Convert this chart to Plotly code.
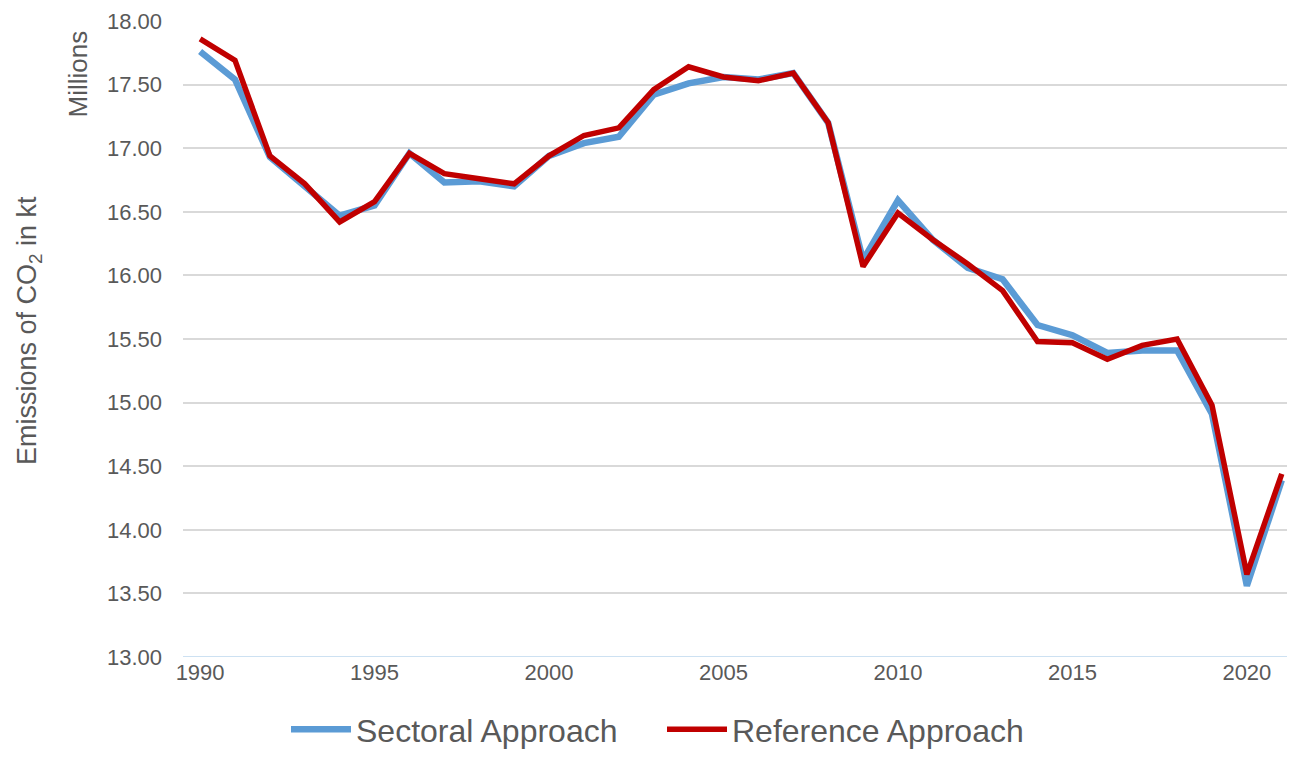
import plotly.graph_objects as go

# Annual CO2 emissions (million kt), two estimation approaches
years = list(range(1990, 2022))
sectoral = [17.76, 17.54, 16.93, 16.70, 16.47, 16.55, 16.96, 16.73, 16.74, 16.70,
            16.94, 17.04, 17.09, 17.42, 17.51, 17.56, 17.54, 17.59, 17.20, 16.12,
            16.59, 16.28, 16.06, 15.97, 15.61, 15.53, 15.39, 15.41, 15.41, 14.91,
            13.56, 14.39]
reference = [17.86, 17.69, 16.94, 16.72, 16.42, 16.58, 16.96, 16.80, 16.76, 16.72,
             16.94, 17.10, 17.16, 17.46, 17.64, 17.56, 17.53, 17.59, 17.20, 16.07,
             16.49, 16.28, 16.09, 15.88, 15.48, 15.47, 15.34, 15.45, 15.50, 14.98,
             13.65, 14.44]
y_ticks = [13.0, 13.5, 14.0, 14.5, 15.0, 15.5, 16.0, 16.5, 17.0, 17.5, 18.0]
x_ticks = [1990, 1995, 2000, 2005, 2010, 2015, 2020]

FONT = "Liberation Sans, Arial, sans-serif"
TEXT = "#595959"

fig = go.Figure()
fig.add_trace(go.Scatter(x=years, y=sectoral, mode="lines", name="Sectoral Approach",
                         line=dict(color="#5B9BD5", width=6.5)))
fig.add_trace(go.Scatter(x=years, y=reference, mode="lines", name="Reference Approach",
                         line=dict(color="#C00000", width=5.5)))

fig.update_layout(
    width=1289, height=757,
    margin=dict(l=183, r=2, t=21, b=100),
    paper_bgcolor="white", plot_bgcolor="white",
    font=dict(family=FONT, color=TEXT, size=22),
    showlegend=True,
    legend=dict(orientation="h", x=0.0933, xanchor="left",
                yref="container", y=0.0, yanchor="bottom",
                font=dict(size=32, color=TEXT), itemwidth=60,
                entrywidth=301, entrywidthmode="pixels", tracegroupgap=0),
    xaxis=dict(range=[1989.51, 2021.15], tickvals=x_ticks, ticktext=[str(v) for v in x_ticks],
               showgrid=False, zeroline=False, showline=False, ticks="",
               tickfont=dict(size=22, color=TEXT)),
    yaxis=dict(range=[13.0, 18.0], tickvals=y_ticks,
               ticktext=[f"{v:.2f}" for v in y_ticks],
               showgrid=True, gridcolor="#D9D9D9", gridwidth=1.5,
               zeroline=False, showline=False, ticks="", ticklabelstandoff=20,
               tickfont=dict(size=22, color=TEXT)),
    shapes=[dict(type="line", xref="paper", yref="y", x0=0, x1=1, y0=13.0, y1=13.0,
                 line=dict(color="#BDD7EE", width=1.5), layer="below")],
    annotations=[
        dict(text="Emissions of CO<sub>2</sub> in kt", textangle=-90, showarrow=False,
             xref="paper", yref="paper", x=-0.1395, xanchor="center",
             y=(330 - 21) / -636 + 1, yanchor="middle", font=dict(size=27, color=TEXT)),
        dict(text="Millions", textangle=-90, showarrow=False,
             xref="paper", yref="paper", x=-0.096, xanchor="center",
             y=1.0 - 8 / 636, yanchor="top", font=dict(size=26, color=TEXT)),
    ],
)

fig.write_html("out.html")
